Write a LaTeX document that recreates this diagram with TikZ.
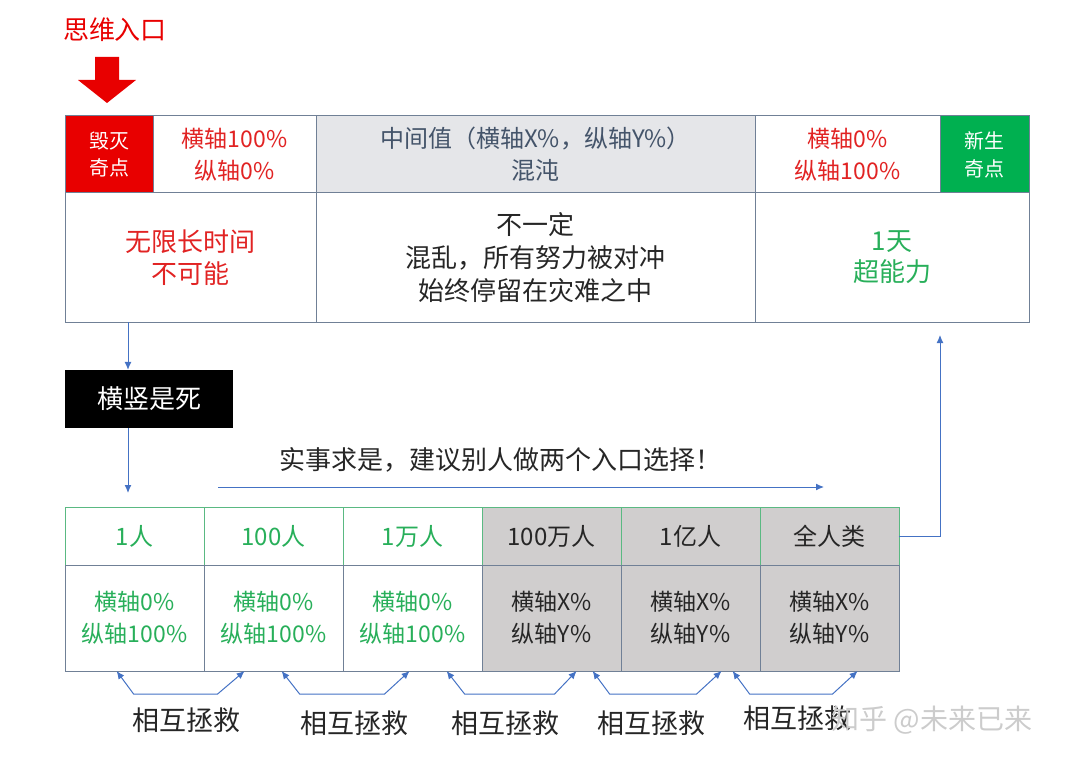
\documentclass[tikz,border=0pt]{standalone}
\usepackage{fontspec}
\setmainfont{Noto Sans CJK SC}
\usetikzlibrary{positioning, arrows.meta}
\definecolor{rim}{RGB}{112,128,150}
\definecolor{link}{RGB}{68,114,196}
\definecolor{ruinred}{RGB}{232,0,0}
\definecolor{ruinink}{RGB}{225,35,35}
\definecolor{newgreen}{RGB}{0,176,80}
\definecolor{newink}{RGB}{40,175,90}
\definecolor{haze}{RGB}{229,230,233}
\definecolor{slate}{RGB}{68,84,106}
\definecolor{shade}{RGB}{208,206,206}
\definecolor{headrim}{RGB}{90,185,130}
\definecolor{ink}{RGB}{38,38,38}
\tikzset{
  >={Latex[length=8pt,width=7pt]},
  node distance=139pt,
  cell/.style={draw=rim, line width=1pt, inner sep=0pt, outer sep=0pt,
    align=center, font=\fontsize{23}{32}\selectfont},
  tag/.style={cell, text=white, font=\fontsize{20}{28}\selectfont,
    minimum width=88pt, minimum height=77pt},
  head/.style={cell, draw=headrim, minimum width=139pt, minimum height=58pt,
    font=\fontsize{24}{30}\selectfont},
  body/.style={cell, minimum width=139pt, minimum height=106pt},
  flow/.style={->, draw=link, line width=1pt},
  rescue/.style={<->, draw=link, line width=1pt},
  say/.style={inner sep=0pt, font=\fontsize{26}{30}\selectfont},
}

\begin{document}
\begin{tikzpicture}[x=1pt, y=-1pt]
  \useasboundingbox (0,0) rectangle (1080,765);

  % entrance
  \node[say, text=ruinred] (entry) at (115,30) {思维入口};
  \fill[ruinred] (95,57) -- (119,57) -- (119,80) -- (136,80) -- (107,103)
    -- (78,80) -- (95,80) -- cycle;

  % top table
  \node[tag, fill=ruinred] (kill) at (109,154.5) {毁灭\\奇点};
  \node[cell, right=0pt of kill, minimum width=163pt, minimum height=77pt,
    text=ruinink] (hx) {横轴100\%\\纵轴0\%};
  \node[cell, right=0pt of hx, minimum width=439pt, minimum height=77pt,
    fill=haze, text=slate, font=\fontsize{24}{32}\selectfont] (mid)
    {中间值（横轴X\%，纵轴Y\%）\\混沌};
  \node[cell, right=0pt of mid, minimum width=185pt, minimum height=77pt,
    text=ruinink] (hy) {横轴0\%\\纵轴100\%};
  \node[tag, right=0pt of hy, fill=newgreen, minimum width=89pt] (birth) {新生\\奇点};

  \node[cell, anchor=north west, minimum width=251pt, minimum height=129pt,
    text=ruinink, font=\fontsize{26}{32}\selectfont] (never) at (kill.south west)
    {无限长时间\\不可能};
  \node[cell, right=0pt of never, minimum width=439pt, minimum height=129pt,
    text=ink, font=\fontsize{26}{33}\selectfont] (stuck)
    {不一定\\混乱，所有努力被对冲\\始终停留在灾难之中};
  \node[cell, right=0pt of stuck, minimum width=274pt, minimum height=129pt,
    text=newink, font=\fontsize{26}{31}\selectfont] (super) {1天\\超能力};

  % dead end
  \node[fill=black, text=white, minimum width=168pt, minimum height=58pt,
    inner sep=0pt, font=\fontsize{26}{30}\selectfont] (die) at (149,399) {横竖是死};

  \node[say, text=ink] (advice) at (500,460) {实事求是，建议别人做两个入口选择！};
  \coordinate (go) at (218,487);
  \coordinate (stop) at (824,487);

  % bottom table
  \node[head, text=newink] (p1) at (134.6,536) {1人};
  \node[head, text=newink, right of=p1] (p2) {100人};
  \node[head, text=newink, right of=p2] (p3) {1万人};
  \node[head, fill=shade, text=ink, right of=p3] (p4) {100万人};
  \node[head, fill=shade, text=ink, right of=p4] (p5) {1亿人};
  \node[head, fill=shade, text=ink, right of=p5] (p6) {全人类};

  \node[body, text=newink, below of=p1, node distance=82pt] (q1) {横轴0\%\\纵轴100\%};
  \node[body, text=newink, below of=p2, node distance=82pt] (q2) {横轴0\%\\纵轴100\%};
  \node[body, text=newink, below of=p3, node distance=82pt] (q3) {横轴0\%\\纵轴100\%};
  \node[body, fill=shade, text=ink, below of=p4, node distance=82pt] (q4) {横轴X\%\\纵轴Y\%};
  \node[body, fill=shade, text=ink, below of=p5, node distance=82pt] (q5) {横轴X\%\\纵轴Y\%};
  \node[body, fill=shade, text=ink, below of=p6, node distance=82pt] (q6) {横轴X\%\\纵轴Y\%};

  % connectors
  \coordinate (down) at ([xshift=63pt]never.south west);
  \draw[flow] (down) -- (down |- die.north);
  \draw[flow, shorten >=14pt] (down |- die.south) -- (down |- p1.north);
  \draw[flow] (go) -- (stop);
  \draw[flow, shorten >=13pt] (p6.east) -| (super.south -| birth.west);

  \draw[rescue] ([xshift=-18pt]q1.south) -- ++(17,23) -- ++(84,0) -- ([xshift=-29pt]q2.south);
  \draw[rescue] ([xshift=8pt]q2.south) -- ++(18,23) -- ++(85,0) -- ([xshift=-3pt]q3.south);
  \draw[rescue] ([xshift=34pt]q3.south) -- ++(18,23) -- ++(90,0) -- ([xshift=25pt]q4.south);
  \draw[rescue] ([xshift=41pt]q4.south) -- ++(17,23) -- ++(87,0) -- ([xshift=31pt]q5.south);
  \draw[rescue] ([xshift=42pt]q5.south) -- ++(17,23) -- ++(83,0) -- ([xshift=28pt]q6.south);

  \node[say, text=ink, font=\fontsize{27}{30}\selectfont] (r1) at (186,720) {相互拯救};
  \node[say, text=ink, font=\fontsize{27}{30}\selectfont] (r2) at (354,723) {相互拯救};
  \node[say, text=ink, font=\fontsize{27}{30}\selectfont] (r3) at (505,723) {相互拯救};
  \node[say, text=ink, font=\fontsize{27}{30}\selectfont] (r4) at (651,723) {相互拯救};
  \node[say, text=ink, font=\fontsize{27}{30}\selectfont] (r5) at (797,718) {相互拯救};

  \node[say, text=black!20, font=\fontsize{28}{30}\selectfont] (mark) at (932,720) {知乎 @未来已来};
\end{tikzpicture}
\end{document}
